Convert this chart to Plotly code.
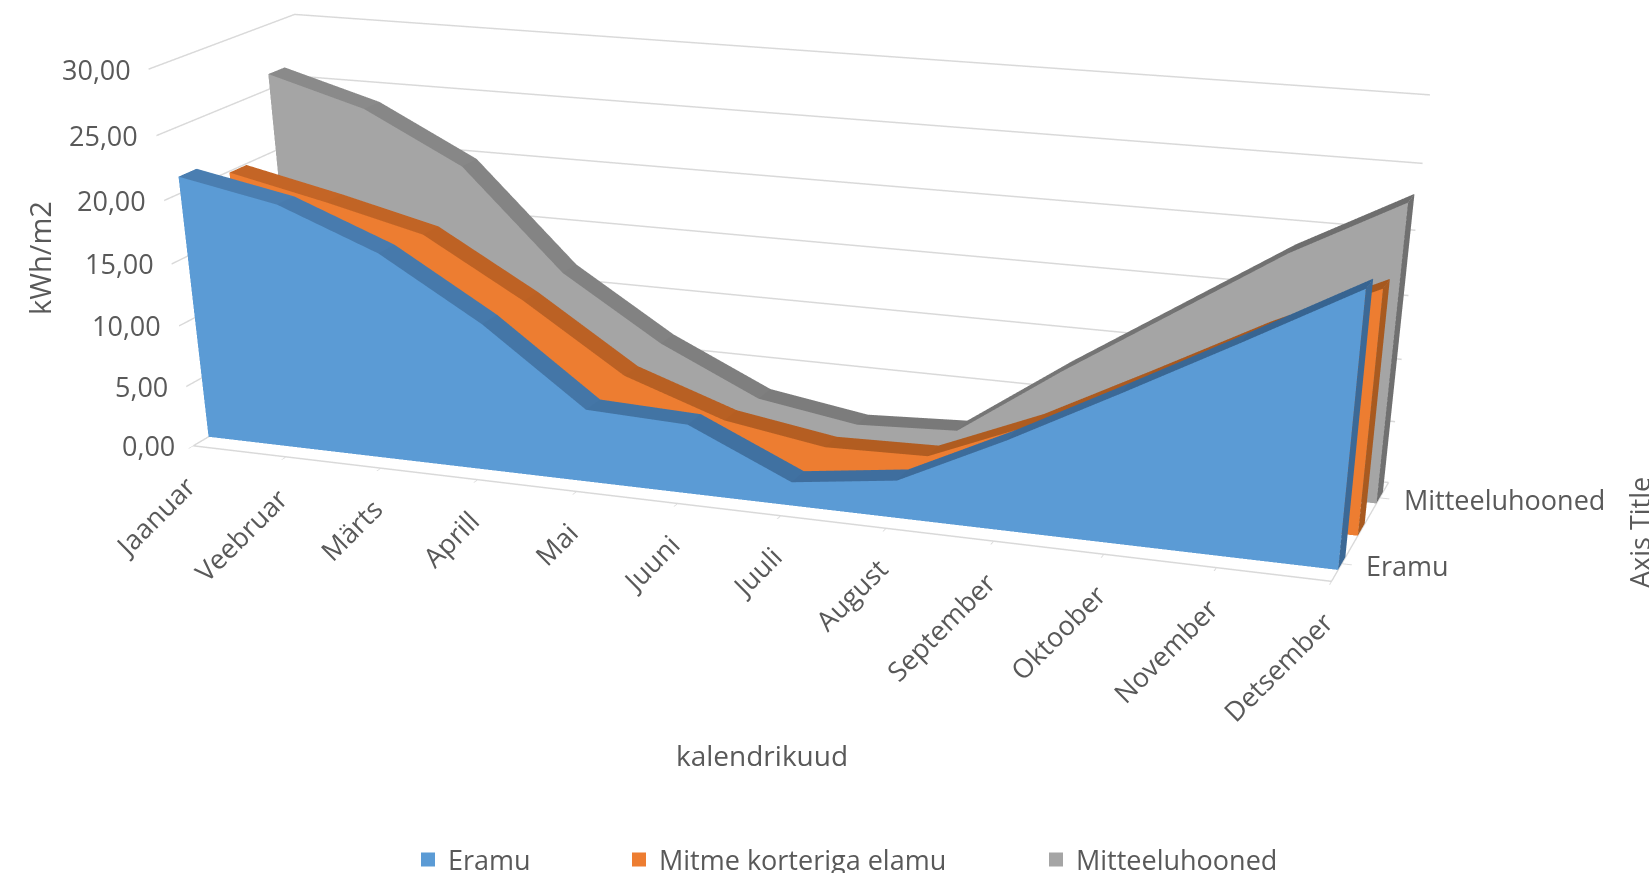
import plotly.graph_objects as go

months = ["Jaanuar", "Veebruar", "Märts", "Aprill", "Mai", "Juuni", "Juuli", "August",
          "September", "Oktoober", "November", "Detsember"]
eramu = [21.3, 19.8, 16.7, 11.9, 5.9, 5.6, 1.9, 3.0, 7.1, 11.6, 16.2, 20.9]
korter = [19.9, 18.2, 16.3, 11.7, 6.4, 3.6, 2.3, 2.5, 6.0, 10.4, 14.9, 18.9]
mitteelu = [26.2, 24.0, 20.0, 12.0, 6.9, 3.1, 1.8, 2.2, 8.0, 13.4, 18.8, 23.3]
series_names = ["Eramu", "Mitme korteriga elamu", "Mitteeluhooned"]
value_ticks = [0, 5, 10, 15, 20, 25, 30]
value_labels = ["0,00", "5,00", "10,00", "15,00", "20,00", "25,00", "30,00"]

FIG_W, FIG_H = 1649, 2400
TEXT = "#595959"
FONT = "Open Sans"
GRID = "#D9D9D9"
LABEL = dict(family=FONT, size=27, color=TEXT)


def py(pixel):
    """Paper coordinate for a distance from the top of the figure."""
    return 1 - pixel / FIG_H


def band(values, depth, half, front, top_a, top_b, side):
    """One 3-D area ribbon: front face, sloped top strip and the closing end."""
    n = len(values)
    y0, y1 = depth - half, depth + half
    xs, ys, zs = [], [], []
    for m, v in enumerate(values):
        xs += [m, m, m, m]
        ys += [y0, y0, y1, y1]
        zs += [0, v, v, 0]
    i, j, k, colors = [], [], [], []

    def quad(a, b, c, d, col):
        i.extend([a, a]); j.extend([b, c]); k.extend([c, d]); colors.extend([col, col])

    for m in range(n - 1):
        t = m / (n - 2)
        shade = tuple(round(p + (q - p) * t) for p, q in zip(top_a, top_b))
        quad(4 * m + 1, 4 * (m + 1) + 1, 4 * (m + 1) + 2, 4 * m + 2, "rgb(%d,%d,%d)" % shade)
    for m in range(n - 1):
        quad(4 * m, 4 * (m + 1), 4 * (m + 1) + 1, 4 * m + 1, "rgb(%d,%d,%d)" % front)
    e = 4 * (n - 1)
    quad(e, e + 1, e + 2, e + 3, "rgb(%d,%d,%d)" % side)
    return go.Mesh3d(x=xs, y=ys, z=zs, i=i, j=j, k=k, facecolor=colors, flatshading=True,
                     lighting=dict(ambient=1, diffuse=0, specular=0, fresnel=0),
                     hoverinfo="skip", showlegend=False)


fig = go.Figure()
fig.add_trace(band(mitteelu, 2.5, 0.18, (165, 165, 165), (138, 138, 138), (110, 110, 110), (112, 112, 112)))
fig.add_trace(band(korter, 1.5, 0.18, (237, 125, 49), (196, 101, 38), (166, 88, 30), (168, 90, 32)))
fig.add_trace(band(eramu, 0.5, 0.18, (91, 155, 213), (74, 126, 177), (55, 100, 145), (60, 105, 150)))

# one key per series, each with its own legend box along the bottom
key_colors = ["#5B9BD5", "#ED7D31", "#A5A5A5"]
key_x = [408, 619, 1036]
for n, (name, col) in enumerate(zip(series_names, key_colors)):
    ref = "legend" if n == 0 else "legend%d" % (n + 1)
    fig.add_trace(go.Scatter3d(x=[None], y=[None], z=[None], mode="markers", name=name,
                               marker=dict(symbol="square", size=14, color=col),
                               legend=ref, showlegend=True))
legend_common = dict(orientation="h", yanchor="middle", xanchor="left", y=py(860),
                     font=LABEL, bgcolor="rgba(0,0,0,0)")

# axis labels are pinned to the axes in data space so they keep a fixed text size
scene_labels = []
for m, label in enumerate(months):
    scene_labels.append(dict(x=m, y=0, z=0, text=label, showarrow=False, textangle=-45,
                             xanchor="right", yanchor="top", xshift=12, yshift=-20, font=LABEL))
for v, label in zip(value_ticks, value_labels):
    scene_labels.append(dict(x=0, y=0, z=v, text=label, showarrow=False,
                             xanchor="right", yanchor="middle", xshift=-16, font=LABEL))
for d, label in ((0.5, series_names[0]), (2.5, series_names[2])):
    scene_labels.append(dict(x=11, y=d, z=0, text=label, showarrow=False,
                             xanchor="left", yanchor="middle", xshift=22, yshift=-2, font=LABEL))

axis_common = dict(showbackground=False, zeroline=False, showspikes=False, title=dict(text=""),
                   showticklabels=False)
fig.update_layout(
    width=FIG_W, height=FIG_H, autosize=False,
    margin=dict(l=0, r=0, t=0, b=0), paper_bgcolor="white",
    showlegend=True,
    legend=dict(x=key_x[0] / FIG_W, **legend_common),
    legend2=dict(x=key_x[1] / FIG_W, **legend_common),
    legend3=dict(x=key_x[2] / FIG_W, **legend_common),
    scene=dict(
        domain=dict(x=[0, 1], y=[0, 1]),
        aspectmode="manual",
        aspectratio=dict(x=1.46, y=0.363, z=0.455),
        camera=dict(eye=dict(x=1.234, y=-3.3355, z=0.9367),
                    center=dict(x=0.3446, y=-0.8132, z=-0.7596),
                    up=dict(x=0, y=0, z=1)),
        xaxis=dict(range=[0, 11], tickvals=list(range(12)),
                   showgrid=False, showline=True, linecolor=GRID, linewidth=3,
                   ticks="outside", ticklen=8, tickcolor=GRID, tickwidth=2, **axis_common),
        yaxis=dict(range=[0, 3], tickvals=[0.5, 2.5],
                   showgrid=False, showline=True, linecolor=GRID, linewidth=3,
                   ticks="outside", ticklen=8, tickcolor=GRID, tickwidth=2, **axis_common),
        zaxis=dict(range=[0, 30], tickvals=value_ticks,
                   showgrid=True, gridcolor=GRID, gridwidth=3, showline=False, ticks="", **axis_common),
        annotations=scene_labels,
    ),
    annotations=[
        dict(text="kalendrikuud", x=762 / FIG_W, y=py(755), xref="paper", yref="paper", showarrow=False,
             xanchor="center", yanchor="middle", font=dict(family=FONT, size=28, color=TEXT)),
        dict(text="kWh/m2", x=39 / FIG_W, y=py(258), xref="paper", yref="paper", showarrow=False,
             xanchor="center", yanchor="middle", textangle=-90, font=dict(family=FONT, size=29, color=TEXT)),
        dict(text="Axis Title", x=1640 / FIG_W, y=py(533), xref="paper", yref="paper", showarrow=False,
             xanchor="center", yanchor="middle", textangle=-90, font=dict(family=FONT, size=27, color=TEXT)),
    ],
)

fig.write_html("out.html", config=dict(displayModeBar=False),
               post_script="document.documentElement.style.overflow='hidden';document.body.style.overflow='hidden';")
